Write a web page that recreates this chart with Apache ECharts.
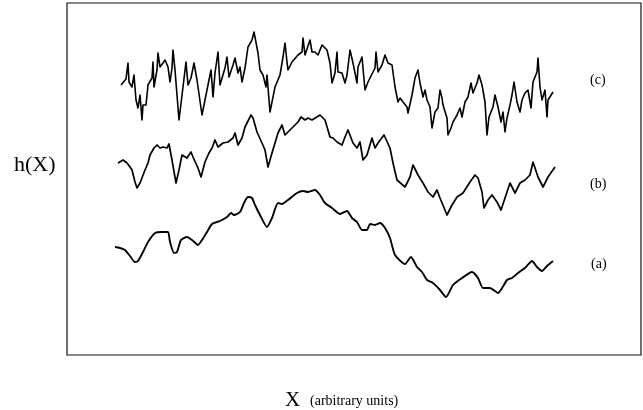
<!DOCTYPE html>
<html>
<head>
<meta charset="utf-8">
<script src="https://cdn.jsdelivr.net/npm/echarts@6/dist/echarts.min.js"></script>
<style>
  html, body { margin: 0; padding: 0; background: #fff; }
  #chart { width: 643px; height: 410px; }
</style>
</head>
<body>
<div id="chart"></div>
<script>
// positions along X (arbitrary units) and heights h(X)
const xA = [48,53,58,63,68,71,76,81,88,95,101,103,107,110,114,120,125,131,135,140,145,153,160,164,167,173,177,181,185,188,193,200,205,211,215,221,230,236,241,248,253,258,265,273,280,285,290,295,300,303,308,313,318,323,328,338,344,350,355,360,366,373,379,386,395,405,411,416,423,431,440,445,451,458,465,470,475,480,486];
const hA = [108,107,105,99,93,94,103,113,122,123,123,113,102,103,115,118,115,110,115,123,131,134,138,142,140,143,152,158,157,150,140,128,137,152,151,155,162,164,163,165,160,152,147,141,144,137,133,125,125,131,130,132,127,117,100,91,98,88,83,75,72,65,58,70,77,83,77,67,67,62,75,77,82,87,94,88,84,89,94];

const xB = [51,53,56,58,60,63,65,68,70,73,78,81,83,87,90,93,96,100,102,105,109,112,115,120,124,126,131,134,138,142,145,148,151,156,161,166,168,171,175,178,184,186,190,195,198,201,205,211,215,218,225,231,234,238,241,245,253,258,263,266,270,275,278,281,286,290,293,296,300,305,308,311,317,323,326,330,338,343,346,351,356,361,366,370,373,380,385,390,396,403,408,411,415,417,421,425,430,434,438,443,448,453,458,463,466,471,476,481,488];
const hB = [192,191,195,197,192,188,185,173,167,172,185,192,200,207,210,207,208,207,211,195,172,185,200,197,203,198,187,178,193,202,207,215,208,212,213,217,222,210,217,228,240,237,223,212,205,188,202,222,230,220,227,233,238,235,237,235,240,235,218,217,213,210,218,225,212,207,213,195,200,217,207,212,220,207,192,175,168,178,190,180,172,163,158,165,157,140,150,158,162,173,180,177,163,147,155,160,153,145,157,172,162,172,175,180,193,178,168,178,188];

const xC = [54,59,61,62,65,67,69,71,73,75,76,79,81,85,86,87,90,91,93,96,98,101,103,105,106,108,112,116,119,121,124,127,130,135,140,144,146,148,151,153,158,160,162,166,168,171,173,175,178,181,185,187,191,193,196,199,200,203,208,213,216,218,220,221,225,231,235,236,238,243,245,248,251,255,260,263,265,268,270,271,275,278,280,283,286,290,291,295,298,301,308,309,311,315,318,321,325,328,331,333,336,340,341,345,348,351,353,356,358,360,363,365,368,371,373,375,376,380,381,384,386,390,393,395,398,401,404,406,410,412,415,418,420,422,426,428,431,434,436,438,440,443,445,447,450,453,455,458,461,464,466,470,471,473,475,478,480,481,486];
const hC = [270,276,292,273,268,280,255,247,260,235,250,250,270,277,293,268,285,302,288,292,295,288,273,287,305,285,235,268,293,270,277,292,275,240,265,285,258,282,303,270,287,298,278,290,297,282,288,273,287,308,315,323,302,285,280,268,280,243,268,280,298,312,293,285,293,300,303,317,300,315,303,303,300,310,305,292,272,282,303,283,282,272,280,305,292,272,288,298,265,273,287,303,283,290,300,292,290,268,253,257,253,248,242,260,277,285,272,258,265,255,248,227,243,247,265,257,250,237,220,227,233,240,247,238,253,258,272,262,272,280,270,253,220,238,248,260,248,233,243,223,237,250,260,273,253,243,255,262,265,247,273,283,297,268,255,265,238,255,263];

const curveLabels = ['(a)', '(b)', '(c)'];
const xName = 'X';
const xUnit = '(arbitrary units)';
const yName = 'h(X)';

function pairs(xs, hs) { return xs.map((x, i) => [x, hs[i]]); }

const serif = '"Liberation Serif", "DejaVu Serif", serif';
const chart = echarts.init(document.getElementById('chart'));

function lineSeries(name, xs, hs, smooth, width) {
  return {
    name: name, type: 'line', data: pairs(xs, hs), smooth: smooth,
    showSymbol: false, symbol: 'none', animation: false,
    lineStyle: { color: '#000', width: width, join: 'round' }
  };
}

chart.setOption({
  backgroundColor: '#fff',
  animation: false,
  grid: { left: 67, right: 2, top: 3, bottom: 55, show: true, borderColor: '#111', borderWidth: 1.2, backgroundColor: 'transparent' },
  xAxis: { type: 'value', min: 0, max: 574, show: false },
  yAxis: { type: 'value', min: 0, max: 352, show: false },
  graphic: [
    { type: 'text', left: 14, top: 154, style: { text: yName, font: '22px ' + serif, fill: '#000' } },
    { type: 'text', left: 285, top: 390, style: { text: xName, font: '21px ' + serif, fill: '#000' } },
    { type: 'text', left: 310, top: 394, style: { text: xUnit, font: '14px ' + serif, fill: '#000' } },
    { type: 'text', left: 591, top: 257, style: { text: curveLabels[0], font: '14px ' + serif, fill: '#000' } },
    { type: 'text', left: 590, top: 177, style: { text: curveLabels[1], font: '14px ' + serif, fill: '#000' } },
    { type: 'text', left: 590, top: 73, style: { text: curveLabels[2], font: '14px ' + serif, fill: '#000' } }
  ],
  series: [
    lineSeries(curveLabels[0], xA, hA, 0.2, 1.9),
    lineSeries(curveLabels[1], xB, hB, false, 1.7),
    lineSeries(curveLabels[2], xC, hC, false, 1.6)
  ]
});
</script>
</body>
</html>
